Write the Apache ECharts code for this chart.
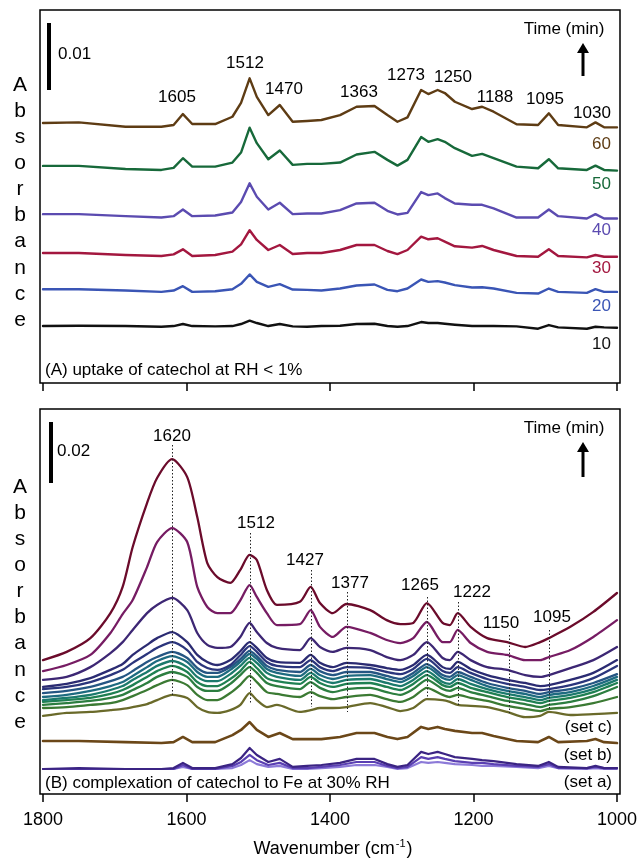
<!DOCTYPE html>
<html><head><meta charset="utf-8">
<script src="https://cdn.jsdelivr.net/npm/echarts@6/dist/echarts.min.js"></script>
<style>html,body{margin:0;padding:0;background:#fff}#c{width:641px;height:860px}</style>
</head><body><div id="c"></div>
<script>
// ---------- DATA (absorbance in mAbs = 0.001 absorbance units) ----------
// Panel A: wavenumber grid (cm-1)
const wnA = [1800,1750,1685,1635,1618,1605,1592,1560,1536,1524,1512,1502,1486,1470,1452,1432,1412,1386,1363,1338,1320,1306,1292,1273,1263,1250,1240,1226,1202,1188,1172,1140,1110,1095,1082,1042,1030,1018,1000];
const timesA = ['60','50','40','30','20','10'];
// vertical stacking offsets of the spectra (mAbs)
const offsetsA = [38.8, 32.4, 25.2, 19.4, 14.0, 8.5];
// spectra relative to their offset (mAbs)
const specA60 = [0,0.1,-0.55,-0.55,-0.3,1.34,-0.15,-0.15,0.94,3.0,6.67,3.9,1.19,2.69,0.19,0.3,0.45,1.19,2.43,2.54,1.19,0.19,0.85,4.93,4.33,4.93,4.48,3.18,2.09,2.43,1.69,-0.19,-0.3,1.45,-0.3,-0.64,0.1,-0.64,-0.64];
const specA50 = [0,0,-0.45,-0.6,-0.3,1.15,-0.1,-0.1,0.5,2.0,5.7,3.4,1.0,2.3,0.15,0.3,0.3,0.5,1.7,2.1,0.9,0.05,0.9,4.3,3.6,4.0,3.6,2.65,1.5,1.8,1.15,-0.1,-0.35,1.0,-0.35,-0.6,0.05,-0.6,-0.7];
const specA40 = [0,0,-0.3,-0.5,-0.3,0.7,-0.3,-0.2,0.25,1.8,4.6,2.6,0.7,1.7,0,0.1,0.1,0.6,1.6,1.7,0.5,-0.05,0.2,3.3,2.85,3.1,2.4,1.6,1.4,1.4,0.85,-0.5,-0.5,0.7,-0.3,-0.65,0,-0.65,-0.65];
const specA30 = [0,0,-0.3,-0.45,-0.2,0.55,-0.45,-0.3,0.2,1.3,3.4,1.95,0.45,1.2,-0.15,0,0,0.45,1.2,1.2,0.3,-0.15,0.45,2.45,2.05,2.2,1.7,1.0,0.8,1.05,0.45,-0.45,-0.55,0.55,-0.45,-0.65,-0.3,-0.55,-0.55];
const specA20 = [0,0,-0.2,-0.4,-0.2,0.45,-0.4,-0.3,0,0.8,2.2,1.1,0.35,0.75,-0.05,-0.1,-0.2,0.1,0.55,0.7,-0.1,-0.3,0.1,1.45,1.1,1.2,1.0,0.6,0.25,0.3,0.1,-0.55,-0.65,0.1,-0.4,-0.55,0,-0.4,-0.4];
const specA10 = [0,0.05,0,-0.1,0,0.3,0,-0.05,0,0.3,0.8,0.45,0,0.3,-0.05,-0.1,0,0.05,0.3,0.35,0,-0.1,0,0.6,0.45,0.45,0.35,0.2,0,0,0,-0.05,-0.4,0.15,-0.2,-0.4,-0.1,-0.2,-0.25];
const peaksA = [1605,1512,1470,1363,1273,1250,1188,1095,1030];

// Panel B: set c on its own grid, sets a and b on wnA (plotted values, mAbs)
const wnC = [1800,1767,1734,1706,1689,1675,1655,1641,1620,1599,1585,1571,1557,1539,1525,1512,1502,1488,1474,1442,1427,1414,1396,1377,1344,1321,1302,1284,1265,1243,1233,1222,1204,1181,1153,1128,1107,1095,1065,1033,1000];
const setC1 = [43.9,46.6,51.1,59.3,67.9,81.0,95.4,103.6,109.8,103.9,90.8,75.7,71.1,69.2,73.5,78.4,76.7,66.9,62.0,63.0,67.9,62.6,59.3,62.3,60.3,57.0,55.7,56.1,62.6,56.1,55.4,59.3,54.8,51.1,49.8,48.2,49.8,51.1,54.8,59.7,65.9];
const setC2 = [40.3,42.3,45.6,52.8,59.0,63.6,74.4,82.6,87.2,82.6,67.9,61.3,59.3,59.3,63.5,68.5,64.6,59.3,55.4,55.7,60.3,54.8,51.5,54.8,52.8,50.5,49.5,51.1,56.4,49.8,49.8,53.8,49.5,46.6,45.6,43.9,43.9,44.9,47.2,51.5,57.0];
const setC3 = [37.4,38.4,41.6,46.2,49.8,53.8,59.3,62.0,64.3,60.3,52.8,48.9,47.9,48.2,51.5,56.1,53.1,49.5,47.9,47.2,51.1,48.2,46.6,47.9,47.2,44.9,43.9,45.6,49.8,44.6,43.9,46.6,43.9,41.6,40.7,39.0,38.4,39.0,41.3,43.9,48.2];
const setC4 = [35.1,36.1,38.0,40.7,42.6,45.6,48.9,51.1,53.1,49.8,45.6,43.3,42.3,43.9,46.8,49.8,47.9,44.6,43.3,43.0,45.6,43.0,41.6,43.0,42.3,41.3,40.7,42.3,45.6,41.6,41.0,43.3,41.0,39.0,37.4,36.4,35.4,35.7,37.4,39.7,43.9];
const setC5 = [34.4,35.1,36.7,39.0,40.7,43.0,45.9,47.9,49.8,47.2,43.3,41.3,40.7,42.3,45.5,48.5,46.6,43.3,42.0,41.6,43.9,41.6,40.3,41.6,41.3,40.0,39.3,41.0,44.3,40.3,39.7,41.6,39.7,37.7,36.1,35.1,34.1,34.4,35.7,38.0,42.0];
const setC6 = [33.1,33.8,35.1,37.0,38.4,40.3,43.3,44.9,46.6,44.6,41.3,39.7,39.7,41.6,44.2,46.9,45.2,42.0,40.7,40.0,42.3,40.3,39.0,40.0,40.0,38.7,37.7,39.7,42.6,39.0,38.4,40.0,38.4,36.4,34.8,33.8,32.8,33.4,34.4,36.4,39.3];
const setC7 = [31.8,32.5,33.8,35.4,36.7,38.7,41.6,43.6,45.2,43.3,40.0,38.4,38.4,40.7,43.3,45.9,44.3,41.0,39.7,38.7,41.0,39.0,37.7,38.7,39.0,37.7,36.7,38.7,41.6,38.0,37.4,39.0,37.4,35.4,33.8,32.8,31.8,32.5,33.4,35.4,38.4];
const setC8 = [30.8,31.5,32.5,34.1,35.4,37.4,40.0,42.0,43.6,41.6,38.4,37.0,37.0,39.3,42.0,44.6,43.0,39.7,38.4,37.4,39.7,37.7,36.4,37.4,37.7,36.4,35.4,37.4,40.3,36.7,36.1,37.7,36.1,34.4,32.8,31.8,30.8,31.5,32.5,34.4,37.4];
const setC9 = [30.2,30.8,31.5,32.8,34.1,35.7,38.4,40.3,42.0,40.0,36.7,35.4,35.4,37.7,40.3,43.3,41.3,38.0,37.0,36.1,38.4,36.4,35.1,36.1,36.4,35.1,34.1,36.1,39.0,35.7,35.1,36.4,34.8,33.4,31.8,30.8,29.8,30.5,31.5,33.4,36.4];
const setC10 = [29.2,29.8,30.5,31.5,32.5,34.1,36.4,38.4,40.0,38.4,35.1,33.8,33.8,36.1,39.0,41.6,39.7,36.4,35.4,34.4,36.7,34.8,33.4,34.4,34.8,33.4,32.5,34.4,37.4,34.4,33.8,34.8,33.4,32.1,30.5,29.5,28.5,29.2,30.2,32.1,35.1];
const setC11 = [28.2,28.5,29.2,29.8,30.8,32.1,34.1,35.7,37.4,35.7,32.5,30.8,30.8,33.1,35.8,38.7,36.7,33.4,32.8,31.8,33.4,32.1,31.1,31.8,32.5,31.1,30.2,31.8,34.8,32.5,31.8,32.5,31.5,30.5,28.9,27.9,27.2,27.9,28.5,29.8,31.8];
const setC12 = [25.6,26.6,26.9,27.5,27.9,28.5,29.5,30.8,32.5,31.5,28.5,26.9,26.6,27.5,29.2,33.1,30.8,28.5,29.2,26.9,27.5,28.2,28.2,28.5,29.8,28.5,27.2,28.2,31.1,30.8,30.2,29.2,28.9,28.5,26.9,25.2,25.6,26.9,25.9,26.2,26.6];
const setB = [17.4,17.4,17.0,16.7,17.0,18.7,17.0,17.0,19.3,21.0,23.6,21.0,18.7,20.0,18.0,18.0,18.0,18.7,20.0,20.0,18.7,18.0,18.7,22.0,21.3,22.0,21.3,20.7,20.0,20.0,19.0,17.4,17.0,18.7,17.0,17.4,18.0,17.0,16.7];
const setA1 = [8.2,8.5,8.2,8.2,8.5,10.2,8.5,8.5,9.8,11.8,15.1,12.8,10.5,11.5,8.9,9.2,9.5,10.2,11.5,11.5,9.8,8.9,9.5,13.8,13.1,13.8,13.1,12.1,11.5,11.1,10.8,9.8,9.2,10.5,8.9,8.5,9.2,8.5,8.5];
const setA2 = [8.2,8.2,8.2,8.2,8.2,9.5,8.2,8.2,9.2,10.5,12.8,11.1,9.5,10.2,8.5,8.5,8.9,9.5,10.5,10.5,9.2,8.5,8.9,12.1,11.5,12.1,11.5,10.8,10.2,10.2,9.8,9.2,8.9,9.8,8.5,8.5,8.9,8.5,8.5];
const setA3 = [8.2,8.2,8.2,8.2,8.2,8.9,8.2,8.2,8.5,9.5,11.1,9.8,8.9,9.2,8.2,8.2,8.5,8.9,9.5,9.5,8.9,8.2,8.5,10.5,10.2,10.5,10.2,9.8,9.5,9.2,9.2,8.9,8.5,9.2,8.5,8.2,8.5,8.2,8.2];
const peaksB = [1620,1512,1427,1377,1265,1222,1150,1095];
const scaleBarA = 10;   // mAbs  (0.01)
const scaleBarB = 20;   // mAbs  (0.02)

// ---------- STYLE / LAYOUT ----------
const FONT = 'Liberation Sans, Arial, Helvetica, sans-serif';
const colorsA = ['#5e3c14','#17693a','#5b4bb0','#a3173f','#3a55b5','#111111'];
const colorsC = ['#6b0b2b','#761c63','#3d2774','#2b2b72','#2b357c','#255683','#1e6b80','#1b7a6c','#1f8052','#2c7e40','#3b7a33','#6a6a2a'];
const colorB = '#6b4718';
const colorsSetA = ['#3b2483','#5a3fb2','#8c7ad8'];

const specA = [specA60,specA50,specA40,specA30,specA20,specA10];
const setC = [setC1,setC2,setC3,setC4,setC5,setC6,setC7,setC8,setC9,setC10,setC11,setC12];
const setAs = [setA1,setA2,setA3];

const chart = echarts.init(document.getElementById('c'), null, {renderer:'canvas'});
const series = [];
function line(xs, ys, color, xi, w, sm){
  return {type:'line', xAxisIndex:xi, yAxisIndex:xi, data: xs.map((x,i)=>[x, ys[i]]),
    symbol:'none', showSymbol:false, silent:true, animation:false,
    smooth: sm,
    lineStyle:{color:color, width:w, join:'round', cap:'round'}};
}
specA.forEach((s,k)=>{ series.push(line(wnA, s.map(v=>v+offsetsA[k]), colorsA[k], 0, 2.4, false)); });
setAs.slice().reverse().forEach((s,k)=>{ series.push(line(wnA, s, colorsSetA[2-k], 1, 2.2, false)); });
series.push(line(wnA, setB, colorB, 1, 2.6, false));
setC.slice().reverse().forEach((s,k)=>{ series.push(line(wnC, s, colorsC[11-k], 1, 2.3, 0.25)); });

function xAxis(gi, labels){
  return {type:'value', gridIndex:gi, min:1000, max:1800, interval:200, inverse:true,
    axisLine:{show:false}, splitLine:{show:false},
    axisTick:{show:true, inside:false, length:8, lineStyle:{color:'#000', width:1.5}},
    axisLabel:{show:labels, color:'#000', fontSize:18, fontFamily:FONT, margin:17, formatter:(v)=>String(v)}};
}
chart.setOption({
  animation:false,
  backgroundColor:'#fff',
  grid:[{left:43, width:574, top:10, height:373}, {left:43, width:574, top:409, height:385}],
  xAxis:[xAxis(0,false), xAxis(1,true)],
  yAxis:[{type:'value', gridIndex:0, min:0, max:373/6.7, show:false},
         {type:'value', gridIndex:1, min:0, max:385/3.05, show:false}],
  series: series
});

// ---------- annotations ----------
const g = [];
function txt(text, x, y, o){
  o = o || {};
  g.push({type:'text', x:x, y:y, z:50, silent:true, style:Object.assign({text:text, fontSize:17, fontFamily:FONT, fill:'#000', align:'center', verticalAlign:'middle'}, o)});
}
// boxes
g.push({type:'rect', z:40, silent:true, shape:{x:40, y:10, width:580, height:373}, style:{fill:'none', stroke:'#000', lineWidth:1.5}});
g.push({type:'rect', z:40, silent:true, shape:{x:40, y:409, width:580, height:385}, style:{fill:'none', stroke:'#000', lineWidth:1.5}});
// scale bars (length from data scale)
const yA0 = chart.convertToPixel({yAxisIndex:0}, 0), yA1 = chart.convertToPixel({yAxisIndex:0}, scaleBarA);
const yB0 = chart.convertToPixel({yAxisIndex:1}, 0), yB1 = chart.convertToPixel({yAxisIndex:1}, scaleBarB);
const lenA = yA0 - yA1, lenB = yB0 - yB1;
g.push({type:'line', z:45, silent:true, shape:{x1:49, y1:90, x2:49, y2:90-lenA}, style:{stroke:'#000', lineWidth:4}});
g.push({type:'line', z:45, silent:true, shape:{x1:51, y1:483, x2:51, y2:483-lenB}, style:{stroke:'#000', lineWidth:4}});
txt(String(scaleBarA/1000), 58, 54, {align:'left'});
txt(String(scaleBarB/1000), 57, 451, {align:'left'});
// Absorbance vertical letters
const ab = 'Absorbance'.split('').join('\n');
txt(ab, 20, 72, {fontSize:21, lineHeight:26.1, verticalAlign:'top'});
txt(ab, 20, 474, {fontSize:21, lineHeight:26.1, verticalAlign:'top'});
// Time arrows
[[43,76,'Time (min)',29],[442,477,'Time (min)',428]].forEach(a=>{
  txt(a[2], 564, a[3]);
  g.push({type:'line', z:45, silent:true, shape:{x1:583, y1:a[0]+8, x2:583, y2:a[1]}, style:{stroke:'#000', lineWidth:3}});
  g.push({type:'polygon', z:45, silent:true, shape:{points:[[583,a[0]],[577,a[0]+10],[589,a[0]+10]]}, style:{fill:'#000'}});
});
// peak labels panel A
const posA = [[177,97],[245,63],[284,89],[359,92],[406,75],[453,77],[495,97],[545,99],[592,113]];
peaksA.forEach((p,i)=>txt(String(p), posA[i][0], posA[i][1]));
// time labels panel A
const posT = [144,184,230,268,306,344];
timesA.forEach((t,i)=>txt(t, 611, posT[i], {align:'right', fill:colorsA[i]}));
txt('(A) uptake of catechol at RH < 1%', 45, 370, {align:'left'});
// peak labels + dotted lines panel B
const posB = [[172,436],[256,523],[305,560],[350,583],[420,585],[472,592],[501,623],[552,617]];
const dotB = [[445,697],[533,703],[570,707],[592,712],[597,698],[602,705],[635,713],[630,710]];
peaksB.forEach((p,i)=>{
  txt(String(p), posB[i][0], posB[i][1]);
  const x = Math.round(chart.convertToPixel({xAxisIndex:1}, p)) + 0.5;
  g.push({type:'line', z:30, silent:true, shape:{x1:x, y1:dotB[i][0], x2:x, y2:dotB[i][1]}, style:{stroke:'#222', lineWidth:1, lineDash:[1.5,2]}});
});
txt('(set c)', 612, 727, {align:'right'});
txt('(set b)', 612, 755, {align:'right'});
txt('(set a)', 612, 782, {align:'right'});
txt('(B) complexation of catechol to Fe at 30% RH', 45, 783, {align:'left'});
// x axis title
g.push({type:'text', x:333, y:849, z:50, silent:true, style:{text:'Wavenumber (cm{sup|-1})', fontSize:18, fontFamily:FONT, fill:'#000', align:'center', verticalAlign:'middle', lineHeight:22,
  rich:{sup:{fontSize:11, fontFamily:FONT, fill:'#000', verticalAlign:'top', lineHeight:22, padding:[0,1,9,1]}}}});
chart.setOption({graphic:{elements:g}});
</script>
</body></html>
